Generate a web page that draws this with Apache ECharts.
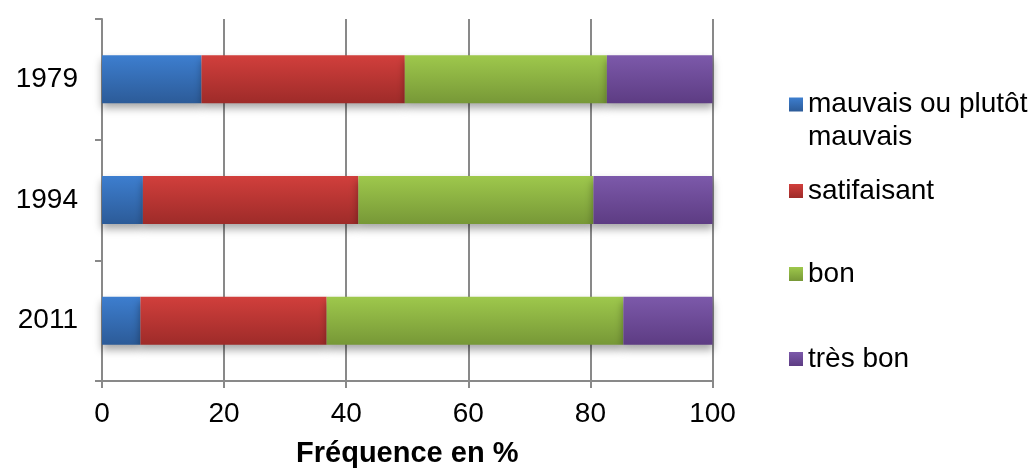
<!DOCTYPE html>
<html>
<head>
<meta charset="utf-8">
<script src="https://cdn.jsdelivr.net/npm/echarts@6/dist/echarts.min.js"></script>
<style>
  html, body { margin: 0; padding: 0; background: #fff; }
  #chart { width: 1036px; height: 473px; }
</style>
</head>
<body>
<div id="chart"></div>
<script>
// Years, top to bottom
const years = ['1979', '1994', '2011'];
// Share of answers per year (%)
const mauvais = [16.3, 6.7, 6.3];
const satifaisant = [33.3, 35.3, 30.5];
const bon = [33.1, 38.5, 48.6];
const tresBon = [17.3, 19.5, 14.6];
const seriesNames = ['mauvais ou plutôt\nmauvais', 'satifaisant', 'bon', 'très bon'];
const xTicks = [0, 20, 40, 60, 80, 100];

const FONT = '"Liberation Sans", Arial, sans-serif';
const GRID = '#898989';

function grad(top, bottom) {
  return {
    type: 'linear', x: 0, y: 0, x2: 0, y2: 1,
    colorStops: [{ offset: 0, color: top }, { offset: 1, color: bottom }]
  };
}
const fills = [
  grad('#3d7ecf', '#2c5b98'),
  grad('#d13f3c', '#9e2b29'),
  grad('#9ec84c', '#779837'),
  grad('#7c59aa', '#5d3c83')
];
const values = [mauvais, satifaisant, bon, tresBon];

const chart = echarts.init(document.getElementById('chart'), null, { renderer: 'canvas' });

const series = seriesNames.map((name, i) => ({
  name: name,
  type: 'bar',
  stack: 'total',
  barWidth: 48,
  data: values[i],
  itemStyle: {
    color: fills[i],
    shadowColor: 'rgba(0,0,0,0.35)',
    shadowBlur: 8,
    shadowOffsetY: 5
  },
  emphasis: { disabled: true }
}));

// One legend block per entry so each sits at its own height
const legendCenters = [104.5, 191, 274, 359];
const LH = 33;
const legends = seriesNames.map((name, i) => {
  const multi = i === 0;
  // the two-line entry gets a blank leading line so its icon lines up with the first line
  return {
    orient: 'vertical',
    left: 789,
    top: legendCenters[i] - (multi ? LH * 1.5 : LH / 2),
    padding: 0,
    icon: 'rect',
    itemWidth: 14,
    itemHeight: 14,
    selectedMode: false,
    data: [name],
    formatter: multi ? (n) => '\n' + n : '{name}',
    textStyle: {
      fontFamily: FONT,
      fontSize: 28,
      color: '#000',
      lineHeight: LH
    }
  };
});

chart.setOption({
  animation: false,
  backgroundColor: '#fff',
  grid: { left: 102, right: 323.5, top: 19, bottom: 92, containLabel: false },
  legend: legends,
  xAxis: {
    type: 'value',
    min: xTicks[0],
    max: xTicks[xTicks.length - 1],
    interval: xTicks[1] - xTicks[0],
    name: 'Fréquence en %',
    nameLocation: 'middle',
    nameGap: 58,
    nameTextStyle: { fontFamily: FONT, fontSize: 29, fontWeight: 'bold', color: '#000' },
    axisLine: { show: true, lineStyle: { color: GRID, width: 2 } },
    axisTick: { show: true, length: 7, lineStyle: { color: GRID, width: 2 } },
    splitLine: { show: true, lineStyle: { color: GRID, width: 2 } },
    axisLabel: { fontFamily: FONT, fontSize: 28, color: '#000', margin: 19 }
  },
  yAxis: {
    type: 'category',
    inverse: true,
    data: years,
    axisLine: { show: true, lineStyle: { color: GRID, width: 2 } },
    axisTick: { show: true, length: 7, alignWithLabel: false, lineStyle: { color: GRID, width: 2 } },
    splitLine: { show: false },
    axisLabel: { fontFamily: FONT, fontSize: 28, color: '#000', margin: 24 }
  },
  series: series
});
</script>
</body>
</html>
